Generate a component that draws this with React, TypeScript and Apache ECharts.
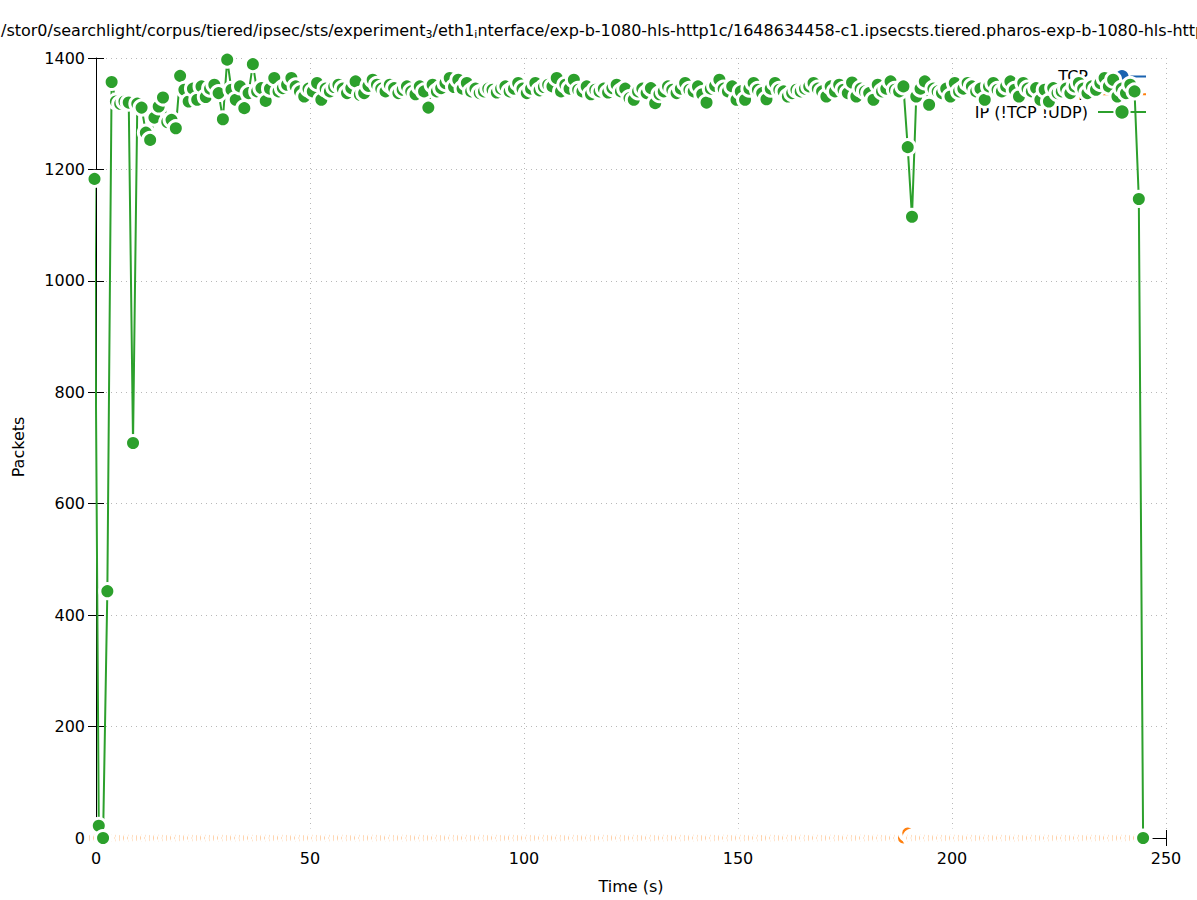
import React, { useEffect, useRef } from "react";
import * as echarts from "echarts";

const FONT = "DejaVu Sans, sans-serif";

const seriesNames = ["TCP", "UDP", "IP (!TCP !UDP)"];
const seriesColors = ["#1a63b0", "#ff7f0e", "#2ca02c"];

const xTicks = [0, 50, 100, 150, 200, 250];
const yTicks = [0, 200, 400, 600, 800, 1000, 1200, 1400];

// packets per second, one sample per second, first sample at t = -0.35 s
const ipPackets = [
  1183, 22, 0, 443, 1357, 1322, 1318, 1322, 1320, 709,
  1318, 1311, 1266, 1253, 1293, 1313, 1329, 1285, 1289, 1274,
  1368, 1343, 1322, 1345, 1325, 1349, 1330, 1345, 1352, 1337,
  1290, 1397, 1343, 1325, 1349, 1310, 1337, 1389, 1340, 1346,
  1323, 1345, 1364, 1340, 1346, 1352, 1364, 1349, 1340, 1331,
  1345, 1340, 1355, 1325, 1345, 1340, 1348, 1352, 1345, 1337,
  1346, 1358, 1334, 1337, 1350, 1361, 1352, 1345, 1340, 1352,
  1346, 1337, 1343, 1349, 1340, 1335, 1349, 1340, 1311, 1352,
  1340, 1346, 1355, 1364, 1348, 1361, 1345, 1355, 1340, 1345,
  1337, 1340, 1345, 1343, 1338, 1345, 1349, 1340, 1345, 1355,
  1345, 1337, 1345, 1355, 1342, 1348, 1352, 1349, 1364, 1340,
  1352, 1345, 1361, 1343, 1340, 1349, 1335, 1343, 1340, 1345,
  1338, 1346, 1352, 1340, 1345, 1328, 1325, 1340, 1345, 1337,
  1346, 1319, 1335, 1340, 1349, 1343, 1337, 1345, 1355, 1343,
  1340, 1349, 1335, 1320, 1345, 1350, 1361, 1345, 1340, 1349,
  1325, 1340, 1325, 1345, 1355, 1343, 1337, 1326, 1345, 1355,
  1343, 1340, 1331, 1337, 1343, 1340, 1345, 1349, 1355, 1345,
  1340, 1331, 1349, 1340, 1352, 1343, 1337, 1356, 1331, 1345,
  1340, 1337, 1325, 1352, 1340, 1345, 1358, 1343, 1340, 1349,
  1240, 1115, 1331, 1345, 1358, 1316, 1345, 1340, 1337, 1345,
  1331, 1355, 1340, 1345, 1355, 1349, 1340, 1345, 1325, 1349,
  1355, 1343, 1340, 1349, 1358, 1343, 1331, 1355, 1345, 1340,
  1346, 1325, 1343, 1322, 1346, 1337, 1340, 1345, 1337, 1349,
  1355, 1345, 1337, 1349, 1343, 1355, 1364, 1349, 1361, 1331,
  1345, 1337, 1352, 1340, 1147, 0,
];

const tcpPackets = [
  0, 0, 0, 0, 0, 0, 0, 0, 0, 0, 0, 0, 0, 0, 0, 0, 0, 0, 0, 0,
  0, 0, 0, 0, 0, 0, 0, 0, 0, 0, 0, 0, 0, 0, 0, 0, 0, 0, 0, 0,
  0, 0, 0, 0, 0, 0, 0, 0, 0, 0, 0, 0, 0, 0, 0, 0, 0, 0, 0, 0,
  0, 0, 0, 0, 0, 0, 0, 0, 0, 0, 0, 0, 0, 0, 0, 0, 0, 0, 0, 0,
  0, 0, 0, 0, 0, 0, 0, 0, 0, 0, 0, 0, 0, 0, 0, 0, 0, 0, 0, 0,
  0, 0, 0, 0, 0, 0, 0, 0, 0, 0, 0, 0, 0, 0, 0, 0, 0, 0, 0, 0,
  0, 0, 0, 0, 0, 0, 0, 0, 0, 0, 0, 0, 0, 0, 0, 0, 0, 0, 0, 0,
  0, 0, 0, 0, 0, 0, 0, 0, 0, 0, 0, 0, 0, 0, 0, 0, 0, 0, 0, 0,
  0, 0, 0, 0, 0, 0, 0, 0, 0, 0, 0, 0, 0, 0, 0, 0, 0, 0, 0, 0,
  0, 0, 0, 0, 0, 0, 0, 0, 0, 0, 0, 0, 0, 0, 0, 0, 0, 0, 0, 0,
  0, 0, 0, 0, 0, 0, 0, 0, 0, 0, 0, 0, 0, 0, 0, 0, 0, 0, 0, 0,
  0, 0, 0, 0, 0, 0, 0, 0, 0, 0, 0, 0, 0, 0, 0, 0, 0, 0, 0, 0,
  0, 0, 0, 0, 0, 0,
];

const udpPackets = [
  0, 0, 0, 0, 0, 0, 0, 0, 0, 0, 0, 0, 0, 0, 0, 0, 0, 0, 0, 0,
  0, 0, 0, 0, 0, 0, 0, 0, 0, 0, 0, 0, 0, 0, 0, 0, 0, 0, 0, 0,
  0, 0, 0, 0, 0, 0, 0, 0, 0, 0, 0, 0, 0, 0, 0, 0, 0, 0, 0, 0,
  0, 0, 0, 0, 0, 0, 0, 0, 0, 0, 0, 0, 0, 0, 0, 0, 0, 0, 0, 0,
  0, 0, 0, 0, 0, 0, 0, 0, 0, 0, 0, 0, 0, 0, 0, 0, 0, 0, 0, 0,
  0, 0, 0, 0, 0, 0, 0, 0, 0, 0, 0, 0, 0, 0, 0, 0, 0, 0, 0, 0,
  0, 0, 0, 0, 0, 0, 0, 0, 0, 0, 0, 0, 0, 0, 0, 0, 0, 0, 0, 0,
  0, 0, 0, 0, 0, 0, 0, 0, 0, 0, 0, 0, 0, 0, 0, 0, 0, 0, 0, 0,
  0, 0, 0, 0, 0, 0, 0, 0, 0, 0, 0, 0, 0, 0, 0, 0, 0, 0, 0, 0,
  0, 0, 0, 0, 0, 0, 0, 0, 0, 0, 9, 0, 0, 0, 0, 0, 0, 0, 0, 0,
  0, 0, 0, 0, 0, 0, 0, 0, 0, 0, 0, 0, 0, 0, 0, 0, 0, 0, 0, 0,
  0, 0, 0, 0, 0, 0, 0, 0, 0, 0, 0, 0, 0, 0, 0, 0, 0, 0, 0, 0,
  0, 0, 0, 0, 0, 0,
];

const START_TIME = -0.35;

const titleParts = [
  "/stor0/searchlight/corpus/tiered/ipsec/sts/experiment",
  "3",
  "/eth1",
  "i",
  "nterface/exp-b-1080-hls-http1c/1648634458-c1.ipsecsts.tiered.pharos-exp-b-1080-hls-http1c.pcap",
];

export default function App() {
  const ref = useRef<HTMLDivElement>(null);

  useEffect(() => {
    document.body.style.margin = "0";
    const chart = echarts.init(ref.current!, null, { renderer: "svg" });

    const toPairs = (vals: number[]) => vals.map((v, i) => [i + START_TIME, v]);
    const allSeries = [tcpPackets, udpPackets, ipPackets];

    const title =
      `{n|${titleParts[0]}}{s|${titleParts[1]}}{n|${titleParts[2]}}{s|${titleParts[3]}}{n|${titleParts[4]}}`;

    chart.setOption({
      animation: false,
      backgroundColor: "#fff",
      textStyle: { fontFamily: FONT },
      grid: { left: 96, right: 31, top: 58, bottom: 62, containLabel: false },
      legend: {
        orient: "vertical",
        right: 45,
        top: 63,
        align: "right",
        itemWidth: 48,
        itemHeight: 19,
        itemGap: 0.5,
        z: 1,
        selectedMode: false,
        textStyle: { fontSize: 16, color: "#000", fontFamily: FONT, padding: [0, 5, 0, 0] },
        data: seriesNames,
      },
      graphic: [
        {
          type: "text",
          x: 1,
          y: 30,
          style: {
            text: title,
            verticalAlign: "middle",
            rich: {
              n: { fontSize: 16, fontFamily: FONT, fill: "#000", color: "#000" },
              s: { fontSize: 11, fontFamily: FONT, color: "#000", padding: [9, 0, 0, 0] },
            },
          },
        },
        {
          type: "text",
          x: 631,
          y: 886,
          style: { text: "Time (s)", fontSize: 16, fontFamily: FONT, fill: "#000", align: "center", verticalAlign: "middle" },
        },
        {
          type: "text",
          x: 18,
          y: 447,
          rotation: Math.PI / 2,
          style: { text: "Packets", fontSize: 16, fontFamily: FONT, fill: "#000", align: "center", verticalAlign: "middle" },
        },
      ],
      xAxis: [
        {
          type: "value",
          position: "bottom",
          min: xTicks[0],
          max: xTicks[xTicks.length - 1],
          interval: xTicks[1] - xTicks[0],
          axisLine: { show: true, lineStyle: { color: "#000", width: 1 } },
          axisTick: { show: true, inside: true, length: 8, lineStyle: { color: "#000" } },
          axisLabel: { fontSize: 16, color: "#000", margin: 12, fontFamily: FONT, formatter: (v: number) => String(v) },
          splitLine: { show: true, lineStyle: { color: "#b8b8b8", type: [1, 4], width: 1 } },
        },
        {
          type: "value",
          position: "top",
          min: xTicks[0],
          max: xTicks[xTicks.length - 1],
          interval: xTicks[1] - xTicks[0],
          axisLine: { show: false },
          axisTick: { show: true, inside: true, length: 8, lineStyle: { color: "#000" } },
          axisLabel: { show: false },
          splitLine: { show: false },
        },
      ],
      yAxis: [
        {
          type: "value",
          position: "left",
          min: yTicks[0],
          max: yTicks[yTicks.length - 1],
          interval: yTicks[1] - yTicks[0],
          axisLine: { show: true, lineStyle: { color: "#000", width: 1 } },
          axisTick: { show: true, inside: true, length: 8, lineStyle: { color: "#000" } },
          axisLabel: { fontSize: 16, color: "#000", margin: 11, fontFamily: FONT, formatter: (v: number) => String(v) },
          splitLine: { show: true, lineStyle: { color: "#b8b8b8", type: [1, 4], width: 1 } },
        },
        {
          type: "value",
          position: "right",
          min: yTicks[0],
          max: yTicks[yTicks.length - 1],
          interval: yTicks[1] - yTicks[0],
          axisLine: { show: false },
          axisTick: { show: true, inside: true, length: 8, lineStyle: { color: "#000" } },
          axisLabel: { show: false },
          splitLine: { show: false },
        },
      ],
      series: allSeries.map((vals, k) => ({
        name: seriesNames[k],
        type: "line",
        xAxisIndex: 0,
        yAxisIndex: 0,
        data: toPairs(vals),
        clip: false,
        z: 3,
        showSymbol: true,
        showAllSymbol: true,
        symbol: "circle",
        symbolSize: 15,
        color: seriesColors[k],
        lineStyle: { color: seriesColors[k], width: 2 },
        itemStyle: { color: seriesColors[k], borderColor: "#fff", borderWidth: k === 1 ? 4 : 3 },
        emphasis: { disabled: true },
      })),
    });

    return () => chart.dispose();
  }, []);

  return <div ref={ref} style={{ width: 1197, height: 900 }} />;
}
